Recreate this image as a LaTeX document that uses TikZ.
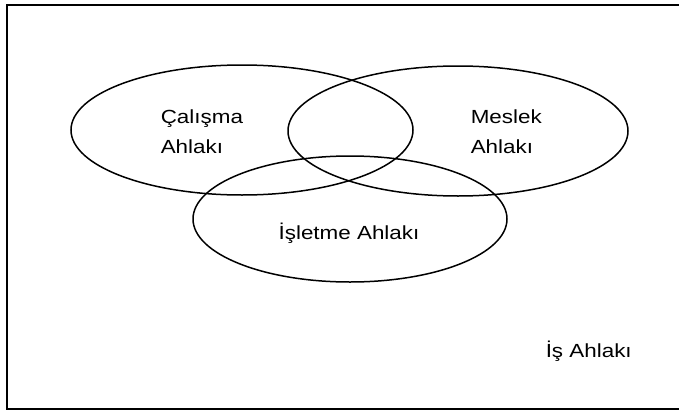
\documentclass[tikz,border=0pt]{standalone}
\usepackage{fontspec}
\setmainfont{Liberation Sans}[FakeStretch=1.18]
\begin{document}
\begin{tikzpicture}[x=1pt, y=-1pt, line width=1.5pt,
  venn/.style={draw=black, line width=1.5pt},
  lbl/.style={font=\fontsize{19}{30}\selectfont, inner sep=0pt, align=left}]
\useasboundingbox (0,0) rectangle (679,412);
% frame
\draw[line width=1.8pt] (680,5) -- (7,5) -- (7,409) -- (680,409);
% three sets
\draw[venn] (242,130) ellipse (171 and 65);
\draw[venn] (458,131) ellipse (170 and 65);
\draw[venn] (350,219) ellipse (157 and 63);
\node[lbl, anchor=base west] (calisma) at (160,153) {Çalışma\\Ahlakı};
\node[lbl, anchor=base west] (meslek) at (470,153) {Meslek\\Ahlakı};
\node[lbl, anchor=base] (isletme) at (349,239) {İşletme Ahlakı};
\node[lbl, anchor=base west] (is) at (545,357) {İş Ahlakı};
\end{tikzpicture}
\end{document}
